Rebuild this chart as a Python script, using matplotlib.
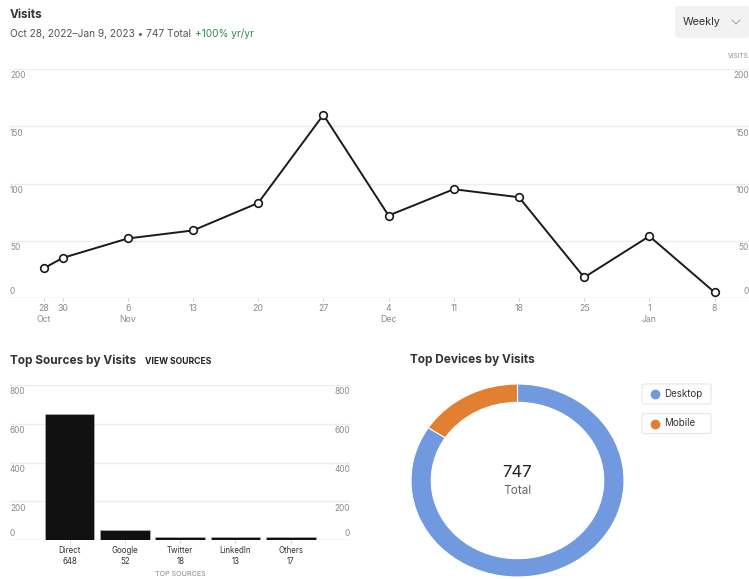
import numpy as np
import pandas as pd
import matplotlib
matplotlib.use("Agg")
import matplotlib.pyplot as plt
import matplotlib.dates as mdates
from matplotlib.patches import FancyBboxPatch
from matplotlib.lines import Line2D
import matplotlib.transforms as mtransforms

plt.rcParams['font.family'] = ['Inter', 'DejaVu Sans']

# weekly visits
visit_dates = ["2022-10-28", "2022-10-30", "2022-11-06", "2022-11-13", "2022-11-20",
               "2022-11-27", "2022-12-04", "2022-12-11", "2022-12-18", "2022-12-25",
               "2023-01-01", "2023-01-08"]
visits = [26, 35, 52, 59, 83, 160, 72, 95, 88, 18, 54, 5]
date_labels = ["28\nOct", "30", "6\nNov", "13", "20", "27", "4\nDec", "11", "18",
               "25", "1\nJan", "8"]
visit_ticks = [0, 50, 100, 150, 200]

# sources
sources = ["Direct", "Google", "Twitter", "LinkedIn", "Others"]
source_visits = [648, 52, 18, 13, 17]
source_ticks = [0, 200, 400, 600, 800]

# devices
devices = ["Desktop", "Mobile"]
device_visits = [629, 118]
device_colors = ["#7099e0", "#e27f30"]

W, H = 749, 579
fig = plt.figure(figsize=(W / 100, H / 100), dpi=100)


def fx(x):
    return x / W


def fy(y):
    return 1 - y / H


grey = "#8a8a8a"
grid_c = "#ececec"

# ---- header ----
fig.text(fx(10), fy(15), "Visits", fontsize=8.5, fontweight="bold", color="#333333",
         va="center", ha="left")
t1 = fig.text(fx(10), fy(34), "Oct 28, 2022\u2013Jan 9, 2023 \u2022 747 Total",
              fontsize=7.3, color="#555555", va="center", ha="left")

btn = FancyBboxPatch((fx(675), fy(38)), fx(74), (38 - 6) / H,
                     boxstyle="round,pad=0,rounding_size=0.004",
                     transform=fig.transFigure, facecolor="#f2f2f2", edgecolor="none",
                     linewidth=0)
fig.add_artist(btn)
fig.text(fx(683), fy(22), "Weekly", fontsize=7.8, color="#333333", va="center",
         ha="left")
fig.add_artist(Line2D([fx(732), fx(736), fx(740)], [fy(20), fy(24), fy(20)],
                      transform=fig.transFigure, color="#aaaaaa", lw=0.8))
fig.text(fx(749), fy(56), "VISITS", fontsize=4.8, color=grey, va="center", ha="right")

# ---- visits line chart ----
ax1 = fig.add_axes([fx(10), fy(298), fx(739), (298 - 69) / H])
x = pd.to_datetime(visit_dates)
start = pd.Timestamp("2022-10-28")
ax1.set_xlim(mdates.date2num(start - pd.Timedelta(days=3.65)),
             mdates.date2num(start + pd.Timedelta(days=75.7)))
ax1.set_ylim(0, 200)
for v in visit_ticks[1:]:
    ax1.axhline(v, color=grid_c, lw=1, zorder=0)
ax1.axhline(0, color="#d0d0d0", lw=1, zorder=0)
ax1.plot(x, visits, color="#1a1a1a", lw=1.4, marker="o", markersize=5.5,
         markerfacecolor="white", markeredgecolor="#1a1a1a", markeredgewidth=1.2,
         zorder=3)
for s in ax1.spines.values():
    s.set_visible(False)
ax1.set_yticks([])
ax1.set_xticks(x)
ax1.set_xticklabels(date_labels, fontsize=6.3, color=grey, linespacing=1.3, va="top")
ax1.tick_params(axis="x", length=2.5, width=0.6, color="#cccccc", pad=2)

down = mtransforms.offset_copy(ax1.transData, fig=fig, x=0, y=-7, units="dots")
up = mtransforms.offset_copy(ax1.transData, fig=fig, x=0, y=6, units="dots")
for v in visit_ticks:
    tr = up if v == 0 else down
    trl = mtransforms.blended_transform_factory(ax1.transAxes, tr)
    ax1.text(0, v, str(v), transform=trl, fontsize=6, color=grey, ha="left",
             va="center")
    ax1.text(1, v, str(v), transform=trl, fontsize=6, color=grey, ha="right",
             va="center")

# ---- sources bar chart ----
fig.text(fx(10), fy(361), "Top Sources by Visits", fontsize=8.5, fontweight="bold",
         color="#333333", va="center", ha="left")
fig.text(fx(145), fy(361), "VIEW SOURCES", fontsize=6.2, fontweight="bold",
         color="#222222", va="center", ha="left")

ax2 = fig.add_axes([fx(10), fy(540), fx(340), (540 - 385) / H])
pos = np.arange(len(sources))
ax2.set_xlim(-1.076, 5.07)
ax2.set_ylim(0, 800)
for v in source_ticks[1:]:
    ax2.axhline(v, color=grid_c, lw=1, zorder=0)
ax2.axhline(0, color="#d0d0d0", lw=1, zorder=0)
ax2.bar(pos, source_visits, width=0.9, color="#111111", edgecolor="#bbbbbb",
        linewidth=0.4, zorder=2)
for s in ax2.spines.values():
    s.set_visible(False)
ax2.set_yticks([])
ax2.set_xticks(pos)
ax2.set_xticklabels([f"{n}\n{v}" for n, v in zip(sources, source_visits)],
                    fontsize=5.7, color="#333333", linespacing=1.25)
ax2.tick_params(axis="x", length=2.5, width=0.6, color="#cccccc", pad=2)
down2 = mtransforms.offset_copy(ax2.transData, fig=fig, x=0, y=-7, units="dots")
up2 = mtransforms.offset_copy(ax2.transData, fig=fig, x=0, y=6, units="dots")
for v in source_ticks:
    tr = up2 if v == 0 else down2
    trl = mtransforms.blended_transform_factory(ax2.transAxes, tr)
    ax2.text(0, v, str(v), transform=trl, fontsize=6, color=grey, ha="left",
             va="center")
    ax2.text(1, v, str(v), transform=trl, fontsize=6, color=grey, ha="right",
             va="center")
fig.text(fx(180), fy(574.5), "TOP SOURCES", fontsize=5.2, color=grey, va="center",
         ha="center")

# ---- devices donut ----
fig.text(fx(410), fy(360), "Top Devices by Visits", fontsize=8.5, fontweight="bold",
         color="#333333", va="center", ha="left")
ax3 = fig.add_axes([fx(411), fy(577), fx(213), (577 - 384) / H])
ax3.pie(device_visits, colors=device_colors, startangle=90, counterclock=False,
        radius=1, wedgeprops=dict(width=0.19, edgecolor="white", linewidth=0.8))
ax3.set_aspect("auto")
ax3.set_xlim(-1, 1)
ax3.set_ylim(-1, 1)
ax3.text(0, 0.08, f"{sum(device_visits)}", fontsize=12, color="#222222",
         ha="center", va="center")
ax3.text(0, -0.11, "Total", fontsize=8.5, color="#666666", ha="center", va="center")

for i, (name, col) in enumerate(zip(devices, device_colors)):
    top = 384 + i * 29.5
    box = FancyBboxPatch((fx(642), fy(top + 20)), fx(69), 20 / H,
                         boxstyle="round,pad=0,rounding_size=0.003",
                         transform=fig.transFigure, facecolor="white",
                         edgecolor="#e6e6e6", linewidth=0.8)
    fig.add_artist(box)
    fig.add_artist(Line2D([fx(655)], [fy(top + 10)], transform=fig.transFigure,
                          marker="o", markersize=6, color=col, linestyle="none"))
    fig.text(fx(664), fy(top + 10), name, fontsize=7, color="#333333",
             va="center", ha="left")

ax1.annotate("+100% yr/yr", xy=(1, 0.5), xycoords=t1, xytext=(3, 0),
             textcoords="offset points", fontsize=7.3, color="#2e8b4a",
             va="center", ha="left", annotation_clip=False)

fig.savefig("out.png", dpi=100)
